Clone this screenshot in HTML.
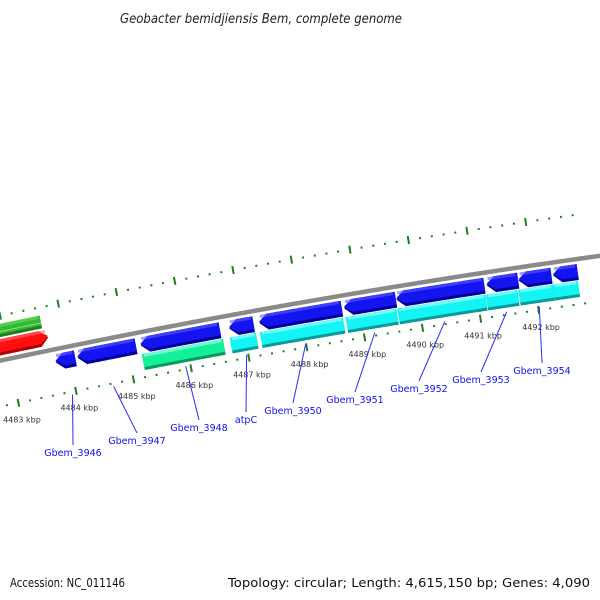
<!DOCTYPE html>
<html><head><meta charset="utf-8">
<style>
html,body{margin:0;padding:0;background:#fff;}
svg{display:block;}
text{font-family:"DejaVu Sans","Liberation Sans",sans-serif;}
</style></head>
<body>
<svg id="map" width="600" height="600" viewBox="0 0 600 600">
<rect width="600" height="600" fill="#fff"/>
<text x="120" y="23" textLength="282" lengthAdjust="spacingAndGlyphs" font-size="13" font-style="italic" fill="#222">Geobacter bemidjiensis Bem, complete genome</text>
<text x="10" y="587" textLength="115" lengthAdjust="spacingAndGlyphs" font-size="12" fill="#111">Accession: NC_011146</text>
<text x="228" y="587" textLength="362" lengthAdjust="spacingAndGlyphs" font-size="12.5" fill="#111">Topology: circular; Length: 4,615,150 bp; Genes: 4,090</text>
<g id="layer"></g>
</svg>
<script>
// ---- data (kbp) ----
var majorTicks = [4482,4483,4484,4485,4486,4487,4488,4489,4490,4491,4492,4493];
var tickLabels = ["4482 kbp","4483 kbp","4484 kbp","4485 kbp","4486 kbp","4487 kbp","4488 kbp","4489 kbp","4490 kbp","4491 kbp","4492 kbp","4493 kbp"];
var revGeneStart = [4483.76,4484.14,4485.23,4486.76,4487.28,4488.74,4489.64,4491.19,4491.74,4492.33,4493.13];
var revGeneEnd   = [4484.10,4485.15,4486.60,4487.18,4488.70,4489.63,4491.15,4491.73,4492.30,4492.75,4493.60];
var cogStart = [4485.22,4486.74,4487.26,4488.74,4489.63,4491.15,4491.71,4492.30];
var cogEnd   = [4486.62,4487.19,4488.69,4489.61,4491.14,4491.69,4492.30,4492.73];
var cogColor = ["#14f09a","#14f4f4","#14f4f4","#14f4f4","#14f4f4","#14f4f4","#14f4f4","#14f4f4"];
var fwdRedStart = [4481.5], fwdRedEnd = [4483.72];
var fwdGreenStart = [4481.5], fwdGreenEnd = [4483.65];
var geneNames = ["Gbem_3946","Gbem_3947","Gbem_3948","atpC","Gbem_3950","Gbem_3951","Gbem_3952","Gbem_3953","Gbem_3954"];
var geneLabelX = [73,137,199,246,293,355,419,481,542];
var geneLabelY = [456,444,431,423,414,403,392,383,374];

// ---- axis (polar) ----
var CX=1774, CY=8742, R0=8567, PHI0=0.2006, DPHI=0.00689;
function pt(k,off){var p=PHI0-(k-4484)*DPHI, r=R0+off; return [CX-r*Math.sin(p), CY-r*Math.cos(p)];}
var NS="http://www.w3.org/2000/svg", layer=document.getElementById('layer');
function mk(tag,attrs){var e=document.createElementNS(NS,tag);for(var a in attrs)e.setAttribute(a,attrs[a]);layer.appendChild(e);return e;}
function f(p){return p[0].toFixed(2)+","+p[1].toFixed(2);}
function band(k1,k2,o1,o2,dir){
  var head=0.14, pts=[], n=24, a=k1, b=k2;
  if(dir<0) a=Math.min(k2,k1+head); if(dir>0) b=Math.max(k1,k2-head);
  for(var i=0;i<=n;i++) pts.push(pt(a+(b-a)*i/n,o2));
  if(dir>0) pts.push(pt(k2,(o1+o2)/2));
  for(var i=n;i>=0;i--) pts.push(pt(a+(b-a)*i/n,o1));
  if(dir<0) pts.push(pt(k1,(o1+o2)/2));
  return "M"+pts.map(f).join("L")+"Z";
}
function gene(k1,k2,o1,o2,dir,col,dark,light,name){
  var e=mk('path',{d:band(k1,k2,o1,o2,dir),fill:dark});
  
  
  var e2=mk('path',{d:band(k1,k2,o1+3,o2,dir),fill:col});
  
  
  var e3=mk('path',{d:band(k1+0.03,k2-0.03,o2-3,o2,0),fill:light,opacity:0.6});
  
  
}
// backbone
(function(){var pts=[];for(var k=4481;k<=4495;k+=0.1)pts.push(pt(k,0));
 var e=mk('path',{d:"M"+pts.map(f).join("L"),fill:"none",stroke:"#8a8a8a","stroke-width":4.5});
 
 })();
// ticks
for(var i=0;i<majorTicks.length-1;i++){
  for(var j=0;j<5;j++){
    var k=majorTicks[i]+j*(majorTicks[i+1]-majorTicks[i])/5;
    [-45,44].forEach(function(o){
      var len=(j==0)?4:1;
      var p1=pt(k,o-len),p2=pt(k,o+len);
      var t=mk('line',{x1:p1[0],y1:p1[1],x2:p2[0],y2:p2[1],stroke:"#1f7f1f","stroke-width":2});
      
      
    });
  }
  var lp=pt(majorTicks[i],-62);
  var tl=mk('text',{x:lp[0],y:lp[1]+3,"text-anchor":"middle","font-size":8,fill:"#333"});
  tl.textContent=tickLabels[i];
  
  
}
// forward genes
for(var i=0;i<fwdRedStart.length;i++) gene(fwdRedStart[i],fwdRedEnd[i],5,21,1,"#ff1010","#b00000","#ff7070","forward-gene-red");
for(var i=0;i<fwdGreenStart.length;i++){
  gene(fwdGreenStart[i],fwdGreenEnd[i],23,36,0,"#33bb33","#1f7f1f","#66dd66","forward-gene-green");
  var ln=mk('path',{d:band(fwdGreenStart[i],fwdGreenEnd[i],28,29,0),fill:"#8fdc8f"});
  
  
}
// reverse genes
for(var i=0;i<revGeneStart.length;i++) gene(revGeneStart[i],revGeneEnd[i],-21,-5,-1,"#1414f0","#00009a","#5a5aff","reverse-gene");
// COG row
for(var i=0;i<cogStart.length;i++){
  var dk=cogColor[i]=="#14f09a"?"#0a9a60":"#0a9a9a";
  gene(cogStart[i],cogEnd[i],-38,-22,0,cogColor[i],dk,"#aaffff","cog-gene");
}
// gene labels
var revMid=[];for(var i=0;i<9;i++)revMid.push((revGeneStart[i]+revGeneEnd[i])/2);
var lineStartOff=[-46,-46,-40,-40,-40,-40,-40,-40,-40];
for(var i=0;i<geneNames.length;i++){
  var s=pt(revMid[i],lineStartOff[i]-2);
  var l=mk('line',{x1:s[0],y1:s[1],x2:geneLabelX[i],y2:geneLabelY[i]-11,stroke:"#2a2aff","stroke-width":1});
  
  
  var t=mk('text',{x:geneLabelX[i],y:geneLabelY[i],"text-anchor":"middle","font-size":9.5,fill:"#1010ee"});
  t.textContent=geneNames[i];
  
  
}
</script>
</body></html>
